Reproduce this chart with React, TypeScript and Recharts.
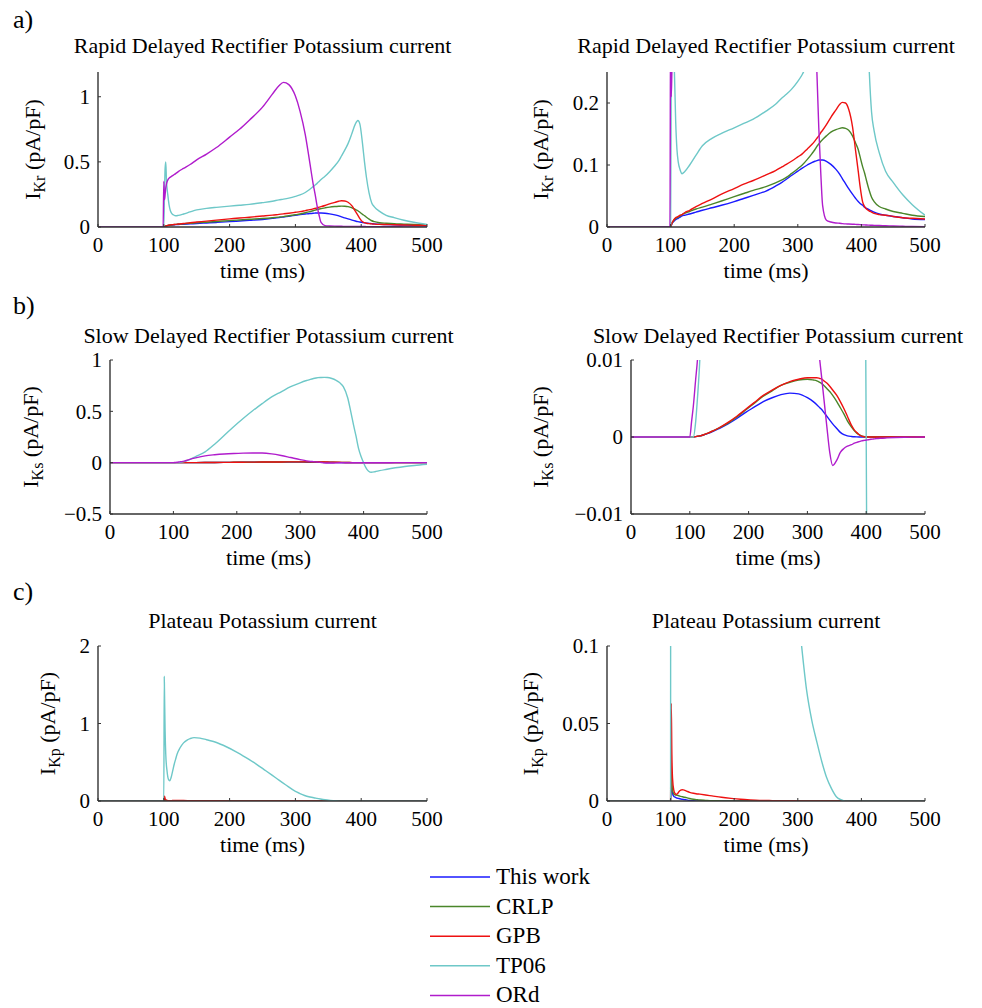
import { Line, LineChart, XAxis, YAxis } from "recharts";

const SERIF = "Liberation Serif, DejaVu Serif, Times New Roman, serif";

const models = ["This work", "CRLP", "GPB", "TP06", "ORd"];
const modelColors: Record<string, string> = {
  "This work": "#1a1aff",
  CRLP: "#4a862a",
  GPB: "#ee1111",
  TP06: "#6ec8c8",
  ORd: "#b01ccc",
};

const timeTicks = [0, 100, 200, 300, 400, 500];

// rapid delayed rectifier, I_Kr (pA/pF)
const ikrTime = [0, 99, 100, 101, 102, 103, 104, 106, 108, 110, 112, 115, 118, 122, 130, 140, 150, 165, 180, 200, 215, 230, 250, 265, 275, 282, 290, 300, 307, 315, 322, 327, 330, 333, 336, 339, 345, 352, 360, 366, 370, 375, 380, 386, 391, 395, 398, 402, 405, 408, 412, 416, 420, 428, 438, 450, 465, 480, 500];
const ikrThisWork = [0, 0, 0, 0.002, 0.005, 0.007, 0.008, 0.01, 0.012, 0.013, 0.014, 0.016, 0.018, 0.019, 0.021, 0.024, 0.027, 0.031, 0.035, 0.041, 0.046, 0.051, 0.058, 0.066, 0.072, 0.077, 0.083, 0.09, 0.095, 0.1, 0.104, 0.106, 0.107, 0.108, 0.108, 0.108, 0.106, 0.101, 0.093, 0.085, 0.078, 0.07, 0.062, 0.053, 0.046, 0.041, 0.038, 0.035, 0.032, 0.03, 0.028, 0.026, 0.024, 0.021, 0.019, 0.017, 0.015, 0.013, 0.012];
const ikrCRLP = [0, 0, 0, 0.003, 0.006, 0.008, 0.009, 0.012, 0.014, 0.015, 0.016, 0.018, 0.02, 0.022, 0.025, 0.029, 0.032, 0.037, 0.042, 0.049, 0.054, 0.059, 0.065, 0.071, 0.076, 0.08, 0.086, 0.094, 0.1, 0.109, 0.118, 0.125, 0.13, 0.134, 0.138, 0.141, 0.147, 0.153, 0.157, 0.159, 0.16, 0.159, 0.156, 0.147, 0.135, 0.125, 0.113, 0.097, 0.087, 0.075, 0.06, 0.048, 0.041, 0.033, 0.029, 0.025, 0.022, 0.019, 0.017];
const ikrGPB = [0, 0, 0, 0.003, 0.006, 0.008, 0.01, 0.013, 0.015, 0.016, 0.017, 0.019, 0.02, 0.023, 0.027, 0.033, 0.038, 0.045, 0.053, 0.062, 0.069, 0.075, 0.084, 0.091, 0.097, 0.101, 0.106, 0.113, 0.118, 0.126, 0.133, 0.139, 0.143, 0.147, 0.152, 0.156, 0.165, 0.177, 0.189, 0.198, 0.201, 0.2, 0.19, 0.162, 0.122, 0.09, 0.065, 0.04, 0.033, 0.029, 0.026, 0.024, 0.022, 0.02, 0.019, 0.017, 0.015, 0.014, 0.013];
const ikrTP06 = [0, 0, 0, 0.25, 0.45, 0.5, 0.36, 0.25, 0.17, 0.125, 0.105, 0.092, 0.086, 0.089, 0.1, 0.116, 0.131, 0.143, 0.151, 0.16, 0.167, 0.174, 0.187, 0.198, 0.208, 0.214, 0.222, 0.235, 0.246, 0.265, 0.29, 0.31, 0.322, 0.335, 0.35, 0.365, 0.39, 0.425, 0.47, 0.51, 0.545, 0.59, 0.64, 0.72, 0.79, 0.818, 0.79, 0.64, 0.5, 0.38, 0.26, 0.185, 0.155, 0.12, 0.09, 0.072, 0.052, 0.036, 0.019];
const ikrORd = [0, 0, 0.35, 0.21, 0.25, 0.3, 0.33, 0.36, 0.375, 0.383, 0.39, 0.4, 0.41, 0.425, 0.45, 0.48, 0.515, 0.56, 0.61, 0.69, 0.75, 0.82, 0.92, 1.02, 1.085, 1.11, 1.093, 1.005, 0.89, 0.71, 0.49, 0.33, 0.25, 0.16, 0.09, 0.035, 0.011, 0.008, 0.0065, 0.006, 0.0055, 0.005, 0.0048, 0.0045, 0.0042, 0.004, 0.0038, 0.0035, 0.0034, 0.0032, 0.003, 0.0028, 0.0026, 0.0023, 0.002, 0.0016, 0.0012, 0.0008, 0.0005];

// slow delayed rectifier, I_Ks (pA/pF)
const iksTime = [0, 100, 103, 106, 110, 113, 117, 125, 135, 150, 165, 180, 195, 210, 225, 240, 255, 270, 285, 300, 310, 316, 321, 325, 328, 333, 338, 343, 350, 356, 362, 368, 375, 380, 384, 388, 392, 396, 398, 400, 402, 405, 408, 412, 418, 425, 435, 450, 465, 480, 500];
const iksThisWork = [0, 0, 0.000005, 0.00002, 0.00005, 0.00008, 0.00013, 0.0003, 0.00057, 0.0011, 0.0017, 0.0024, 0.0032, 0.0039, 0.0046, 0.0051, 0.0055, 0.0057, 0.0056, 0.0051, 0.0046, 0.0042, 0.0038, 0.0035, 0.0032, 0.0027, 0.0022, 0.0017, 0.0011, 0.0006, 0.0003, 0.00015, 0.00007, 0.00003, 0.00001, 0, 0, 0, 0, 0, 0, 0, 0, 0, 0, 0, 0, 0, 0, 0, 0];
const iksCRLP = [0, 0, 0.000005, 0.00002, 0.00005, 0.00009, 0.00014, 0.00033, 0.00065, 0.0012, 0.0018, 0.0026, 0.0035, 0.0044, 0.0053, 0.006, 0.0067, 0.0071, 0.0074, 0.0075, 0.0074, 0.0073, 0.0071, 0.0069, 0.0067, 0.0063, 0.0059, 0.0054, 0.0046, 0.0038, 0.003, 0.0021, 0.0013, 0.0008, 0.0005, 0.0003, 0.00015, 0.00007, 0.00004, 0.00002, 0.00001, 0, 0, 0, 0, 0, 0, 0, 0, 0, 0];
const iksGPB = [0, 0, 0.000005, 0.00002, 0.00005, 0.00009, 0.00014, 0.00033, 0.00065, 0.0012, 0.0019, 0.0027, 0.0036, 0.0045, 0.0054, 0.0061, 0.0067, 0.0072, 0.0075, 0.0077, 0.0077, 0.0077, 0.0076, 0.0075, 0.0073, 0.007, 0.0066, 0.0061, 0.0054, 0.0046, 0.0037, 0.0027, 0.0015, 0.0009, 0.0006, 0.0003, 0.00012, 0.00004, 0.00002, 0.00001, 0, 0, 0, 0, 0, 0, 0, 0, 0, 0, 0];
const iksTP06 = [0, 0, 0, 0, 0.002, 0.005, 0.01, 0.03, 0.06, 0.105, 0.18, 0.265, 0.35, 0.43, 0.505, 0.575, 0.64, 0.69, 0.74, 0.778, 0.8, 0.812, 0.82, 0.825, 0.828, 0.83, 0.831, 0.83, 0.82, 0.805, 0.78, 0.74, 0.63, 0.49, 0.37, 0.26, 0.14, 0.06, 0.028, 0, -0.03, -0.062, -0.083, -0.094, -0.088, -0.078, -0.066, -0.05, -0.037, -0.027, -0.016];
const iksORd = [0, 0, 0.002, 0.004, 0.0075, 0.01, 0.015, 0.03, 0.046, 0.066, 0.077, 0.085, 0.09, 0.093, 0.094, 0.094, 0.086, 0.07, 0.05, 0.03, 0.018, 0.013, 0.01, 0.0072, 0.005, 0.0014, -0.002, -0.0037, -0.003, -0.002, -0.0015, -0.0012, -0.001, -0.0008, -0.0007, -0.0006, -0.0005, -0.00045, -0.00043, -0.0004, -0.00038, -0.00034, -0.0003, -0.00026, -0.0002, -0.00016, -0.00012, -0.00007, -0.00004, -0.00002, 0];

// plateau potassium, I_Kp (pA/pF)
const ikpTime = [0, 99.5, 100, 100.7, 101, 102, 103, 105, 107, 109, 111, 113, 116, 118, 120, 125, 130, 136, 140, 146, 155, 165, 180, 195, 210, 225, 240, 255, 270, 285, 300, 306, 314, 322, 330, 338, 345, 353, 361, 368, 375, 400, 450, 500];
const ikpThisWork = [0, 0, 0, 0.012, 0.015, 0.008, 0.005, 0.003, 0.0025, 0.002, 0.0018, 0.0016, 0.0013, 0.0011, 0.001, 0.0007, 0.0004, 0.0002, 0.0001, 0, 0, 0, 0, 0, 0, 0, 0, 0, 0, 0, 0, 0, 0, 0, 0, 0, 0, 0, 0, 0, 0, 0, 0, 0];
const ikpCRLP = [0, 0, 0, 0.02, 0.025, 0.012, 0.007, 0.0045, 0.004, 0.0038, 0.0036, 0.0034, 0.003, 0.0028, 0.0026, 0.0022, 0.0016, 0.0011, 0.0009, 0.0006, 0.0004, 0.0002, 0.0001, 0, 0, 0, 0, 0, 0, 0, 0, 0, 0, 0, 0, 0, 0, 0, 0, 0, 0, 0, 0, 0];
const ikpGPB = [0, 0, 0, 0.05, 0.063, 0.03, 0.015, 0.007, 0.0048, 0.0043, 0.0048, 0.006, 0.007, 0.0073, 0.0072, 0.0064, 0.0056, 0.005, 0.0047, 0.0044, 0.0039, 0.0033, 0.0024, 0.0017, 0.0011, 0.0007, 0.0004, 0.0003, 0.0002, 0.0002, 0.0001, 0.0001, 0.0001, 0.0001, 0.0001, 0.00005, 0.00005, 0, 0, 0, 0, 0, 0, 0];
const ikpTP06 = [0, 0, 0, 1.61, 1.45, 0.9, 0.6, 0.38, 0.28, 0.26, 0.3, 0.37, 0.48, 0.54, 0.6, 0.69, 0.75, 0.79, 0.805, 0.818, 0.812, 0.79, 0.755, 0.7, 0.635, 0.56, 0.48, 0.39, 0.3, 0.21, 0.125, 0.1, 0.071, 0.052, 0.038, 0.025, 0.0155, 0.008, 0.0026, 0.0008, 0, 0, 0, 0];

function buildRows(time: number[], series: Record<string, number[]>) {
  return time.map((t, i) => {
    const row: Record<string, number> = { t };
    for (const name of Object.keys(series)) row[name] = series[name][i];
    return row;
  });
}

const ikrRows = buildRows(ikrTime, { "This work": ikrThisWork, CRLP: ikrCRLP, GPB: ikrGPB, TP06: ikrTP06, ORd: ikrORd });
const iksRows = buildRows(iksTime, { "This work": iksThisWork, CRLP: iksCRLP, GPB: iksGPB, TP06: iksTP06, ORd: iksORd });
const ikpRows = buildRows(ikpTime, { "This work": ikpThisWork, CRLP: ikpCRLP, GPB: ikpGPB, TP06: ikpTP06 });

type Box = { left: number; right: number; top: number; bottom: number };

const YW = 80;
const MT = 22;
const MR = 20;
const XH = 51;
const MB = 12;

const fmtTick = (v: number) => String(v).replace("-", "\u2212");

function Panel({
  rows,
  names,
  box,
  domain,
  ticks,
}: {
  rows: Record<string, number>[];
  names: string[];
  box: Box;
  domain: [number, number];
  ticks: number[];
}) {
  const axisLine = { stroke: "#333", strokeWidth: 1.4 };
  const tick = { fontFamily: SERIF, fontSize: 21, fill: "#000" };
  return (
    <div style={{ position: "absolute", left: box.left - YW, top: box.top - MT }}>
      <LineChart
        width={box.right - box.left + YW + MR}
        height={box.bottom - box.top + MT + XH + MB}
        data={rows}
        margin={{ top: MT, right: MR, bottom: MB, left: 0 }}
      >
        <XAxis
          dataKey="t"
          type="number"
          domain={[0, 500]}
          ticks={timeTicks}
          interval={0}
          height={XH}
          tickSize={-3}
          tickMargin={13}
          axisLine={axisLine}
          tickLine={{ stroke: "#333" }}
          tick={tick}
          allowDataOverflow
          label={{ value: "time (ms)", position: "insideBottom", offset: 0, fill: "#000", fontSize: 22, fontFamily: SERIF }}
        />
        <YAxis
          type="number"
          domain={domain}
          ticks={ticks}
          interval={0}
          width={YW}
          tickSize={-3}
          tickMargin={11}
          axisLine={axisLine}
          tickLine={{ stroke: "#333" }}
          tick={tick}
          tickFormatter={fmtTick}
          allowDataOverflow
        />
        {names.map((name) => (
          <Line
            key={name}
            dataKey={name}
            type="monotone"
            stroke={modelColors[name]}
            strokeWidth={1.4}
            dot={false}
            isAnimationActive={false}
          />
        ))}
      </LineChart>
    </div>
  );
}

const boxes: Record<string, Box> = {
  aL: { left: 98, right: 427, top: 72, bottom: 227 },
  aR: { left: 607, right: 925, top: 72, bottom: 227 },
  bL: { left: 110, right: 427, top: 360, bottom: 514 },
  bR: { left: 631, right: 925, top: 360, bottom: 514 },
  cL: { left: 98, right: 427, top: 646, bottom: 801 },
  cR: { left: 607, right: 925, top: 646, bottom: 801 },
};

const titles = [
  { text: "Rapid Delayed Rectifier Potassium current", box: boxes.aL, y: 53 },
  { text: "Rapid Delayed Rectifier Potassium current", box: boxes.aR, y: 53 },
  { text: "Slow Delayed Rectifier Potassium current", box: boxes.bL, y: 343 },
  { text: "Slow Delayed Rectifier Potassium current", box: boxes.bR, y: 343 },
  { text: "Plateau Potassium current", box: boxes.cL, y: 628 },
  { text: "Plateau Potassium current", box: boxes.cR, y: 628 },
];

const yLabels = [
  { sub: "Kr", x: 40, box: boxes.aL },
  { sub: "Kr", x: 548, box: boxes.aR },
  { sub: "Ks", x: 38, box: boxes.bL },
  { sub: "Ks", x: 548, box: boxes.bR },
  { sub: "Kp", x: 55, box: boxes.cL },
  { sub: "Kp", x: 538, box: boxes.cR },
];

export default function App() {
  return (
    <div style={{ position: "absolute", left: 0, top: 0, width: 982, height: 1008, background: "#fff", fontFamily: SERIF }}>
      <Panel rows={ikrRows} names={models} box={boxes.aL} domain={[0, 1.19]} ticks={[0, 0.5, 1]} />
      <Panel rows={ikrRows} names={models} box={boxes.aR} domain={[0, 0.25]} ticks={[0, 0.1, 0.2]} />
      <Panel rows={iksRows} names={models} box={boxes.bL} domain={[-0.5, 1]} ticks={[-0.5, 0, 0.5, 1]} />
      <Panel rows={iksRows} names={models} box={boxes.bR} domain={[-0.01, 0.01]} ticks={[-0.01, 0, 0.01]} />
      <Panel rows={ikpRows} names={models.slice(0, 4)} box={boxes.cL} domain={[0, 2]} ticks={[0, 1, 2]} />
      <Panel rows={ikpRows} names={models.slice(0, 4)} box={boxes.cR} domain={[0, 0.1]} ticks={[0, 0.05, 0.1]} />

      <svg width={982} height={1008} style={{ position: "absolute", left: 0, top: 0, pointerEvents: "none" }} fontFamily={SERIF} fill="#000">
        <text x={13} y={28} fontSize={26}>a)</text>
        <text x={13} y={314} fontSize={26}>b)</text>
        <text x={13} y={600} fontSize={26}>c)</text>

        {titles.map((t, i) => (
          <text key={i} x={(t.box.left + t.box.right) / 2} y={t.y} fontSize={22} textAnchor="middle">
            {t.text}
          </text>
        ))}

        {yLabels.map((l, i) => {
          const cy = (l.box.top + l.box.bottom) / 2;
          return (
            <text key={i} x={l.x} y={cy} fontSize={22} textAnchor="middle" transform={`rotate(-90 ${l.x} ${cy})`}>
              I<tspan dy={5} fontSize={16}>{l.sub}</tspan>
              <tspan dy={-5}> (pA/pF)</tspan>
            </text>
          );
        })}

        {models.map((name, i) => {
          const y = 877 + i * 29.6;
          return (
            <g key={name}>
              <line x1={430} x2={490} y1={y} y2={y} stroke={modelColors[name]} strokeWidth={1.5} />
              <text x={496} y={y + 7} fontSize={23}>
                {name}
              </text>
            </g>
          );
        })}
      </svg>
    </div>
  );
}
